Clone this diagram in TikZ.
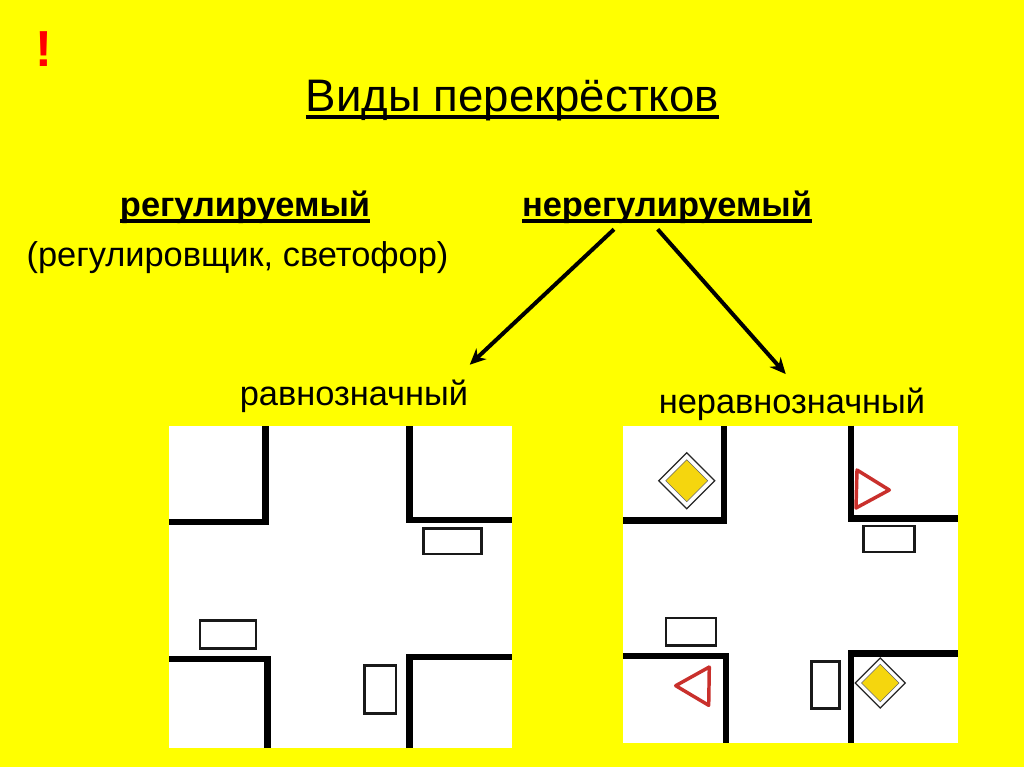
\documentclass[tikz,border=0pt]{standalone}
\usepackage{fontspec}
\setmainfont{Liberation Sans}
\usetikzlibrary{arrows.meta,positioning}
\definecolor{pagefill}{HTML}{FFFF00}
\definecolor{signred}{HTML}{C9302C}
\definecolor{signgold}{HTML}{F5D60E}
\newcommand{\ulbar}[3]{\setbox0=\hbox{#3}\dp0=0pt\vtop{\box0\kern#1\hrule height#2}}
\tikzset{
  >={Stealth[length=12pt,width=11pt]},
  label/.style={inner sep=0pt, anchor=base},
  lot/.style={fill=white, draw=none},
  curb/.style={draw=black, line width=4.8pt, miter limit=10},
  car/.style={draw=black!90, line width=1.6pt, fill=white},
  giveway/.style={draw=signred, line width=2.6pt, line join=round, fill=white},
  mainroad/.style={draw=black!85, line width=.9pt, fill=white},
  mainfill/.style={draw=black!60, line width=.4pt, fill=signgold},
  arrow/.style={->, draw=black, line width=3pt}
}

\begin{document}
\begin{tikzpicture}[x=.75pt,y=-.75pt,font=\rmfamily]

\path[use as bounding box, fill=pagefill] (0,0) rectangle (1024,767);

% Headings
\node[label, text=red, font=\bfseries\fontsize{38}{38}\selectfont] (mark) at (43.5,67) {!};
\node[label, font=\fontsize{34.2}{34.2}\selectfont] (title) at (512.5,111) {\ulbar{3pt}{3pt}{Виды перекрёстков}};
\node[label, font=\bfseries\fontsize{25.8}{25.8}\selectfont] (reg) at (245,216.5) {\ulbar{2.2pt}{3pt}{регулируемый}};
\node[label, font=\fontsize{25.8}{25.8}\selectfont] (regnote) at (237.5,266) {(регулировщик, светофор)};
\node[label, font=\bfseries\fontsize{25.8}{25.8}\selectfont, text depth=9.4pt] (nereg) at (667,216.5) {\ulbar{2.2pt}{3pt}{нерегулируемый}};
\node[label, font=\fontsize{25.8}{25.8}\selectfont, text height=30.4pt, text depth=0pt] (equal) at (354,405.5) {равнозначный};
\node[label, font=\fontsize{25.8}{25.8}\selectfont, text height=29pt, text depth=0pt] (unequal) at (792,413) {неравнозначный};

\draw[arrow] ([xshift=-39.75pt]nereg.south) -- ([xshift=1pt]equal.north east);
\draw[arrow] ([xshift=-7pt]nereg.south) -- ([xshift=-4.7pt]unequal.north);

% Left crossing
\path[lot] (169,426) rectangle (512,748);
\draw[curb] (169,521.7) -- (265.3,521.7) -- (265.3,426);
\draw[curb] (409.3,426) -- (409.3,519.7) -- (512,519.7);
\draw[curb] (169,659) -- (267.3,659) -- (267.3,748);
\draw[curb] (409.3,748) -- (409.3,657) -- (512,657);
\draw[car] (423.5,528.5) rectangle (481.5,554);
\draw[car] (200,620.5) rectangle (256,648.5);
\draw[car] (364.5,665.5) rectangle (396,713.5);

% Right crossing
\path[lot] (623,425.5) rectangle (958,742.7);
\draw[curb] (623,520.5) -- (723.7,520.5) -- (723.7,425.5);
\draw[curb] (851,425.5) -- (851,518.3) -- (958,518.3);
\draw[curb] (623,655.7) -- (725.8,655.7) -- (725.8,742.7);
\draw[curb] (851,742.7) -- (851,653.3) -- (958,653.3);
\draw[car] (863.5,526) rectangle (914.5,552);
\draw[car] (666,618) rectangle (716,645.5);
\draw[car] (811.5,661.5) rectangle (839.5,708.5);

% Signs
\draw[mainroad] (686.7,452.7) -- (714.7,480.7) -- (686.7,508.7) -- (658.7,480.7) -- cycle;
\draw[mainfill] (686.7,459.7) -- (707.7,480.7) -- (686.7,501.7) -- (665.7,480.7) -- cycle;
\draw[mainroad] (880.3,658) -- (905.3,683) -- (880.3,708) -- (855.3,683) -- cycle;
\draw[mainfill] (880.3,664.3) -- (899,683) -- (880.3,701.7) -- (861.6,683) -- cycle;
\draw[giveway] (857,470) -- (889.3,490) -- (856,508) -- cycle;
\draw[giveway] (709.3,667) -- (675.7,685.7) -- (708.7,705.3) -- cycle;

\end{tikzpicture}
\end{document}
